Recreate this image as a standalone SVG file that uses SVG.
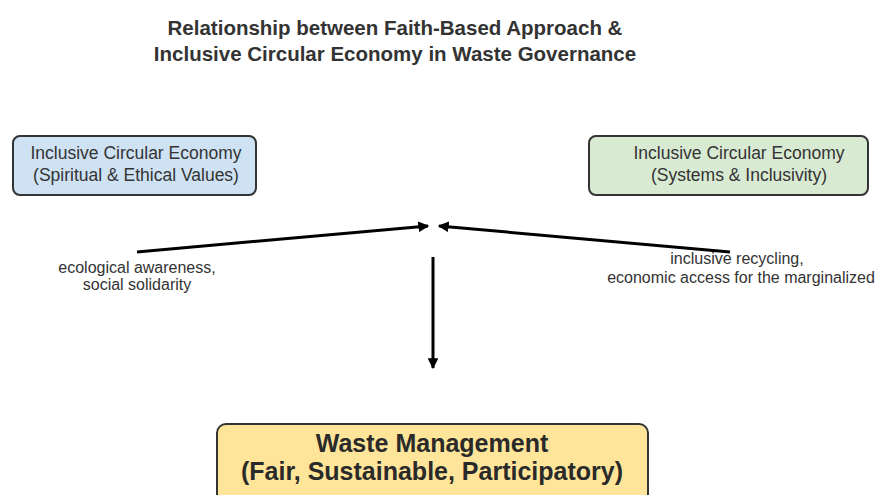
<svg xmlns="http://www.w3.org/2000/svg" width="877" height="495" viewBox="0 0 877 495">
<style>
text{font-family:"Liberation Sans",Arial,sans-serif;fill:#333;}
.title{font-size:20.5px;font-weight:bold;text-anchor:middle;}
.box{stroke:#333;stroke-width:2;}
.bt{font-size:17.5px;text-anchor:middle;}
.lbl{font-size:16px;text-anchor:middle;}
.big{font-size:25px;font-weight:bold;text-anchor:middle;fill:#2a2a2a;}
.conn{stroke:#000;stroke-width:3;fill:none;}
</style>
<defs>
<marker id="ah" viewBox="0 0 10 10" refX="9" refY="5" markerWidth="3.6" markerHeight="3.6" orient="auto" markerUnits="strokeWidth">
<path d="M0,0 L10,5 L0,10 z" fill="#000"/>
</marker>
</defs>
<rect width="877" height="495" fill="#fff"/>
<g id="title">
<text class="title" x="395" y="35">Relationship between Faith-Based Approach &amp;</text>
<text class="title" x="395" y="61">Inclusive Circular Economy in Waste Governance</text>
</g>
<g id="node-left">
<rect class="box" x="13" y="136" width="243" height="59" rx="7" fill="#cfe2f3"/>
<text class="bt" x="136" y="159">Inclusive Circular Economy</text>
<text class="bt" x="136" y="181">(Spiritual &amp; Ethical Values)</text>
</g>
<g id="node-right">
<rect class="box" x="589" y="136" width="279" height="59" rx="7" fill="#d9ead3"/>
<text class="bt" x="739" y="159">Inclusive Circular Economy</text>
<text class="bt" x="739" y="181">(Systems &amp; Inclusivity)</text>
</g>
<g id="node-bottom">
<rect class="box" x="217" y="424" width="431" height="90" rx="9" fill="#ffe599"/>
<text class="big" x="432" y="452">Waste Management</text>
<text class="big" x="432" y="480">(Fair, Sustainable, Participatory)</text>
</g>
<g id="connectors">
<path class="conn" d="M137,252 L428,226" marker-end="url(#ah)"/>
<path class="conn" d="M730,252 L439,226" marker-end="url(#ah)"/>
<path class="conn" d="M433,257 L433,368" marker-end="url(#ah)"/>
</g>
<g id="labels">
<text class="lbl" x="137" y="273">ecological awareness,</text>
<text class="lbl" x="137" y="290">social solidarity</text>
<text class="lbl" x="737" y="264">inclusive recycling,</text>
<text class="lbl" x="741" y="283">economic access for the marginalized</text>
</g>
</svg>
